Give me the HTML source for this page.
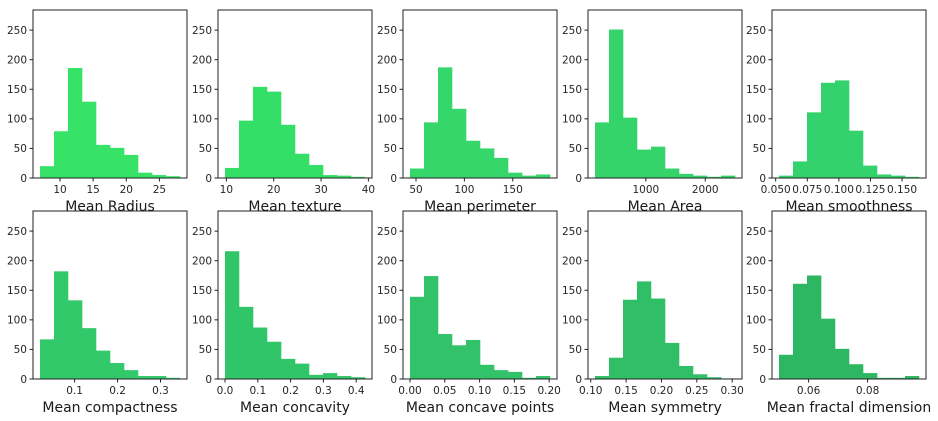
<!DOCTYPE html>
<html><head><meta charset="utf-8"><style>
body{margin:0;background:#fff;}
svg{display:block;font-family:"DejaVu Sans","Liberation Sans",sans-serif;}
</style></head><body>
<svg id="fig" width="938" height="421" viewBox="0 0 938 421"></svg>
<script>
const titles=["Mean Radius","Mean texture","Mean perimeter","Mean Area","Mean smoothness","Mean compactness","Mean concavity","Mean concave points","Mean symmetry","Mean fractal dimension"];
const mins=[6.981,9.71,43.79,143.5,0.05263,0.01938,0,0,0.106,0.04996];
const maxs=[28.11,39.28,188.5,2501,0.1634,0.3454,0.4268,0.2012,0.304,0.09744];
const counts=[
[20,79,186,129,56,51,39,9,5,3],
[17,97,154,146,90,41,22,5,4,2],
[16,94,187,117,63,50,34,9,4,6],
[94,251,102,48,53,16,7,4,2,4],
[4,28,111,161,165,80,21,6,4,2],
[67,182,133,86,48,27,15,5,5,2],
[216,122,87,63,34,26,7,10,5,3],
[139,174,76,57,66,24,15,12,2,5],
[5,36,134,165,136,61,22,8,3,1],
[41,161,175,102,51,25,10,2,2,5]];
const xticks=[[10,15,20,25],[10,20,30,40],[50,100,150],[1000,2000],[0.05,0.075,0.1,0.125,0.15],[0.1,0.2,0.3],[0,0.1,0.2,0.3,0.4],[0,0.05,0.1,0.15,0.2],[0.1,0.15,0.2,0.25,0.3],[0.06,0.08]];
const xtickLabels=[["10","15","20","25"],["10","20","30","40"],["50","100","150"],["1000","2000"],["0.050","0.075","0.100","0.125","0.150"],["0.1","0.2","0.3"],["0.0","0.1","0.2","0.3","0.4"],["0.00","0.05","0.10","0.15","0.20"],["0.10","0.15","0.20","0.25","0.30"],["0.06","0.08"]];
const yticks=[0,50,100,150,200,250];
const colors=["#36e367","#34df68","#35d66a","#34d46b","#33d26d","#32c96a","#31c56a","#31c26a","#30be67","#2eb763"];
const svg=document.getElementById('fig');
const NS="http://www.w3.org/2000/svg";
function mk(tag,attrs,parent){const e=document.createElementNS(NS,tag);for(const k in attrs)e.setAttribute(k,attrs[k]);parent.appendChild(e);return e;}
const colX=[33,218,403,588,772],W=154,H=168,rowTop=[10,211],YMAX=284;
for(let i=0;i<10;i++){
  const r=Math.floor(i/5),c=i%5,x0=colX[c],y0=rowTop[r];
  const g=mk('g',{},svg);
  
  
  const mn=mins[i],mx=maxs[i],pad=(mx-mn)*0.05,lo=mn-pad,hi=mx+pad;
  const sx=v=>x0+(v-lo)/(hi-lo)*W;
  const sy=v=>y0+H-v/YMAX*H;
  const bw=(mx-mn)/10;
  counts[i].forEach((v,j)=>{
    const a=sx(mn+j*bw),b=sx(mn+(j+1)*bw);
    const rc=mk('rect',{x:a,y:sy(v),width:b-a+0.3,height:sy(0)-sy(v),fill:colors[i]},g);
    
    
  });
  const fr=mk('rect',{x:x0,y:y0,width:W,height:H,fill:'none',stroke:'#222','stroke-width':1},g);
  
  
  yticks.forEach(t=>{
    const y=sy(t);
    mk('line',{x1:x0-3.5,x2:x0,y1:y,y2:y,stroke:'#222'},g);
    const tx=mk('text',{x:x0-6,y:y+3.8,'font-size':10.5,'text-anchor':'end',fill:'#262626'},g);
    tx.textContent=t;
    
    
  });
  xticks[i].forEach((t,k)=>{
    const x=sx(t);
    mk('line',{x1:x,x2:x,y1:y0+H,y2:y0+H+3.5,stroke:'#222'},g);
    const tx=mk('text',{x:x,y:y0+H+15,'font-size':10.5,'text-anchor':'middle',fill:'#262626'},g);
    tx.textContent=xtickLabels[i][k];
    
    
  });
  const tt=mk('text',{x:x0+W/2,y:y0+H+33,'font-size':14,'text-anchor':'middle',fill:'#1a1a1a'},g);
  tt.textContent=titles[i];
  
  
}
</script>
</body></html>
